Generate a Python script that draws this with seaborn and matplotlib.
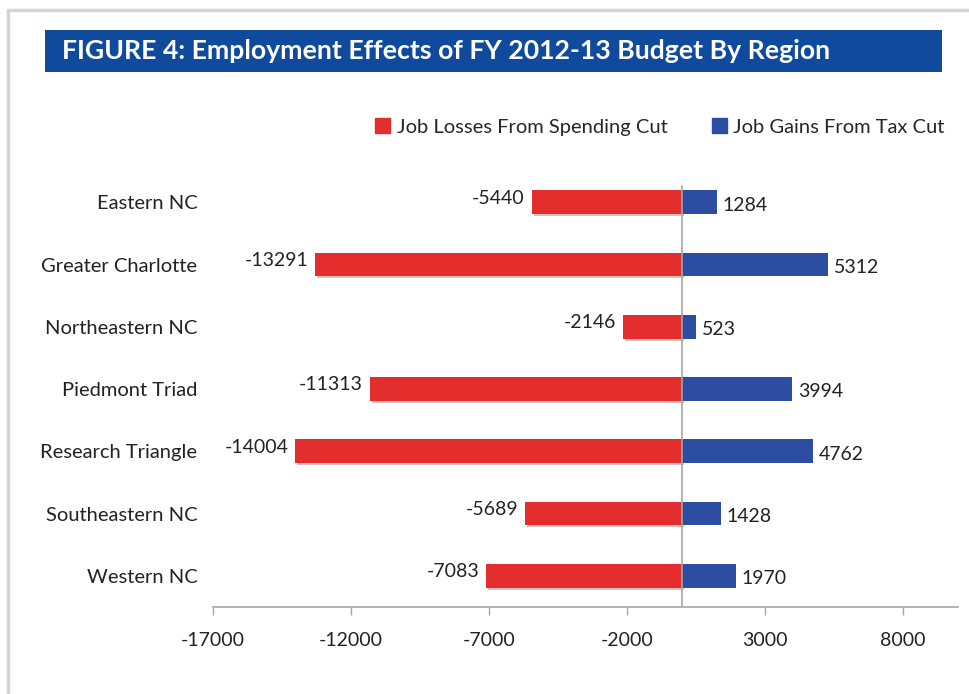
import numpy as np
import pandas as pd
import matplotlib
matplotlib.use("Agg")
import matplotlib.pyplot as plt
import matplotlib.patches as mpatches
import matplotlib.patheffects as pe
import seaborn as sns

# ------------------------------
# Data
# ------------------------------
regions = ["Eastern NC", "Greater Charlotte", "Northeastern NC", "Piedmont Triad",
           "Research Triangle", "Southeastern NC", "Western NC"]
job_losses = [-5440, -13291, -2146, -11313, -14004, -5689, -7083]
job_gains = [1284, 5312, 523, 3994, 4762, 1428, 1970]
x_ticks = [-17000, -12000, -7000, -2000, 3000, 8000]

red = "#e42d2d"
blue = "#2c4da1"
banner = "#0f4a9c"
axis_gray = "#a6a6a6"

sns.set_theme(style="white")
plt.rcParams["font.family"] = ["Lato", "DejaVu Sans"]

df = pd.DataFrame({"region": regions, "losses": job_losses, "gains": job_gains})

fig = plt.figure(figsize=(9.69, 6.94), dpi=100)
ax = fig.add_axes([0.2195, 0.1254, 0.769, 0.628])

# ------------------------------
# Bars
# ------------------------------
sns.barplot(data=df, x="losses", y="region", color=red, width=0.38,
            orient="h", ax=ax, saturation=1, linewidth=0)
sns.barplot(data=df, x="gains", y="region", color=blue, width=0.38,
            orient="h", ax=ax, saturation=1, linewidth=0)

n = len(regions)
for p in ax.patches[:n]:
    p.set_path_effects([pe.SimplePatchShadow(offset=(1.5, -1.5), alpha=0.25), pe.Normal()])

# value labels
for i, (lo, ga) in enumerate(zip(job_losses, job_gains)):
    ax.annotate(str(lo), (lo, i), xytext=(-5, 3), textcoords="offset points",
                ha="right", va="center", fontsize=14, color="#222222")
    ax.annotate(str(ga), (ga, i), xytext=(4, -2), textcoords="offset points",
                ha="left", va="center", fontsize=14, color="#222222")

# ------------------------------
# Axes styling
# ------------------------------
ax.set_xlim(-17000, 10000)
ax.set_xticks(x_ticks)
ax.set_xticklabels([str(t) for t in x_ticks], fontsize=14, color="#222222")
ax.set_xlabel("")
ax.set_ylabel("")
ax.tick_params(axis="y", length=0, pad=11, labelsize=14.5, labelcolor="#222222")
ax.tick_params(axis="x", direction="out", length=6, width=1, color=axis_gray, pad=12,
               bottom=True)
for s in ["top", "right", "left"]:
    ax.spines[s].set_visible(False)
ax.spines["bottom"].set_color(axis_gray)
ax.spines["bottom"].set_linewidth(1.2)
ax.axvline(0, ymin=0, ymax=0.966, color=axis_gray, linewidth=1.2, zorder=5)

# ------------------------------
# Legend
# ------------------------------
handles = [mpatches.Patch(color=red, label="Job Losses From Spending Cut"),
           mpatches.Patch(color=blue, label="Job Gains From Tax Cut")]
fig.legend(handles=handles, loc="center right", bbox_to_anchor=(0.993, 0.817), ncol=2,
           frameon=False, fontsize=14.5, handlelength=0.75, handleheight=0.75,
           handletextpad=0.3, columnspacing=2.2)

# ------------------------------
# Title banner and page frame
# ------------------------------
fig.patches.append(mpatches.Rectangle((45 / 969, 1 - 72 / 694), 897 / 969, 42 / 694,
                                      transform=fig.transFigure, facecolor=banner,
                                      edgecolor="none", zorder=1))
fig.text(62 / 969, 1 - 51 / 694, "FIGURE 4: Employment Effects of FY 2012-13 Budget By Region",
         color="white", fontsize=19.2, fontweight="bold", ha="left", va="center", zorder=2)
fig.patches.append(mpatches.Rectangle((8 / 969, -0.05), 1.1, 1 - 10 / 694 + 0.05,
                                      transform=fig.transFigure, facecolor="none",
                                      edgecolor="#d4d4d4", linewidth=2.5, zorder=0))

fig.savefig("out.png", dpi=100, facecolor="white")
